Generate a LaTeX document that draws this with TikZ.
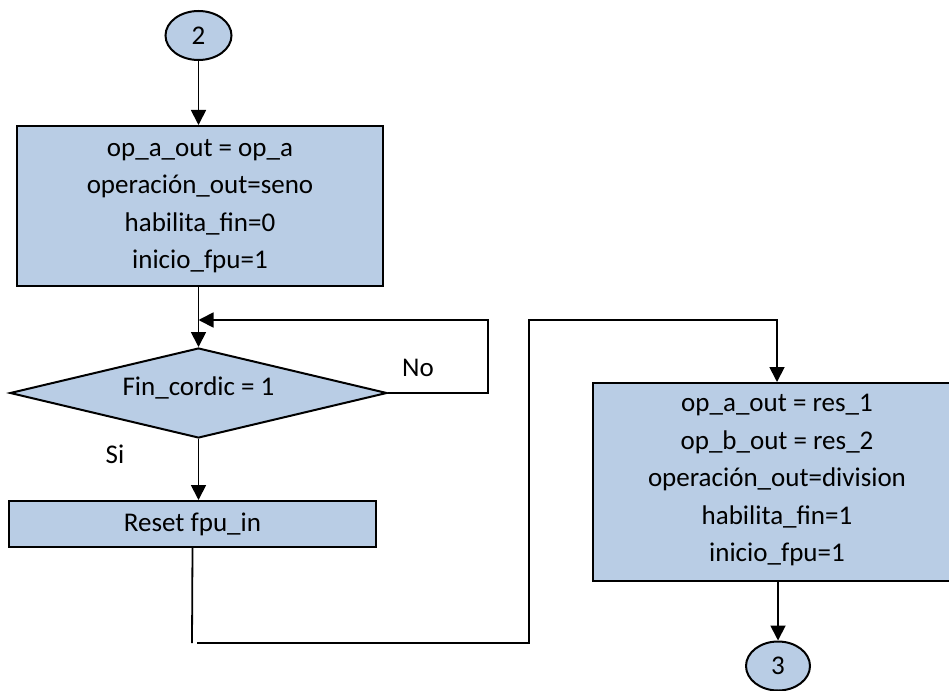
\documentclass[tikz,border=0pt]{standalone}
\usepackage{fontspec}
\setmainfont{Carlito}
\usetikzlibrary{shapes.geometric,arrows.meta}
\definecolor{boxfill}{RGB}{185,205,229}
\begin{document}
\begin{tikzpicture}[x=1pt,y=-1pt,
  every node/.style={font=\fontsize{27}{37.5}\selectfont},
  blk/.style={draw=black,line width=2pt,fill=boxfill,inner sep=0pt,align=center},
  procbox/.style={blk,rectangle},
  conn/.style={blk,ellipse},
  decision/.style={blk,diamond,aspect=4.2},
  link/.style={line width=1.8pt},
  arr/.style={link,-{Triangle[width=15pt,length=15pt]}}
]
\useasboundingbox (0,0) rectangle (949,690);

% flow nodes
\node[conn,minimum width=66pt,minimum height=49pt] (c2) at (198.5,35.5) {2};
\node[procbox,minimum width=366pt,minimum height=160pt] (b1) at (200,206)
  {op\_a\_out = op\_a\\operación\_out=seno\\habilita\_fin=0\\inicio\_fpu=1};
\node[decision,minimum width=377pt,minimum height=90pt] (dia) at (198.5,393)
  {\raisebox{5pt}[\height][\depth]{Fin\_cordic = 1}};
\node[procbox,minimum width=367pt,minimum height=46pt] (reset) at (192.5,524) {Reset fpu\_in};
\node[procbox,minimum width=368pt,minimum height=198pt] (b3) at (777,482)
  {\raisebox{3pt}[\height][\depth]{\begin{tabular}{@{}c@{}}op\_a\_out = res\_1\\op\_b\_out = res\_2\\operación\_out=division\\habilita\_fin=1\\inicio\_fpu=1\end{tabular}}};
\node[conn,minimum width=64pt,minimum height=49pt] (c3) at (778,666) {3};

% branch labels
\node (no) at (418,368) {No};
\node (si) at (115,454) {Si};

% bends of the connectors
\coordinate (loop) at (488,320);
\coordinate (low) at (192,643);
\coordinate (lowstart) at (197,643);
\coordinate (turn) at (529,320);

% connectors
\draw[arr] (c2.south) -- (c2.south |- b1.north);
\draw[arr] (dia.north |- b1.south) -- (dia.north);
\draw[arr] (dia.east) -| (loop) -- (loop -| dia.north);
\draw[arr] (dia.south) -- (dia.south |- reset.north);
\draw[link] (reset.south) -- (low);
\draw[arr] (lowstart) -| (turn) -| (b3.north);
\draw[arr] (b3.south -| c3.north) -- (c3.north);
\end{tikzpicture}
\end{document}
